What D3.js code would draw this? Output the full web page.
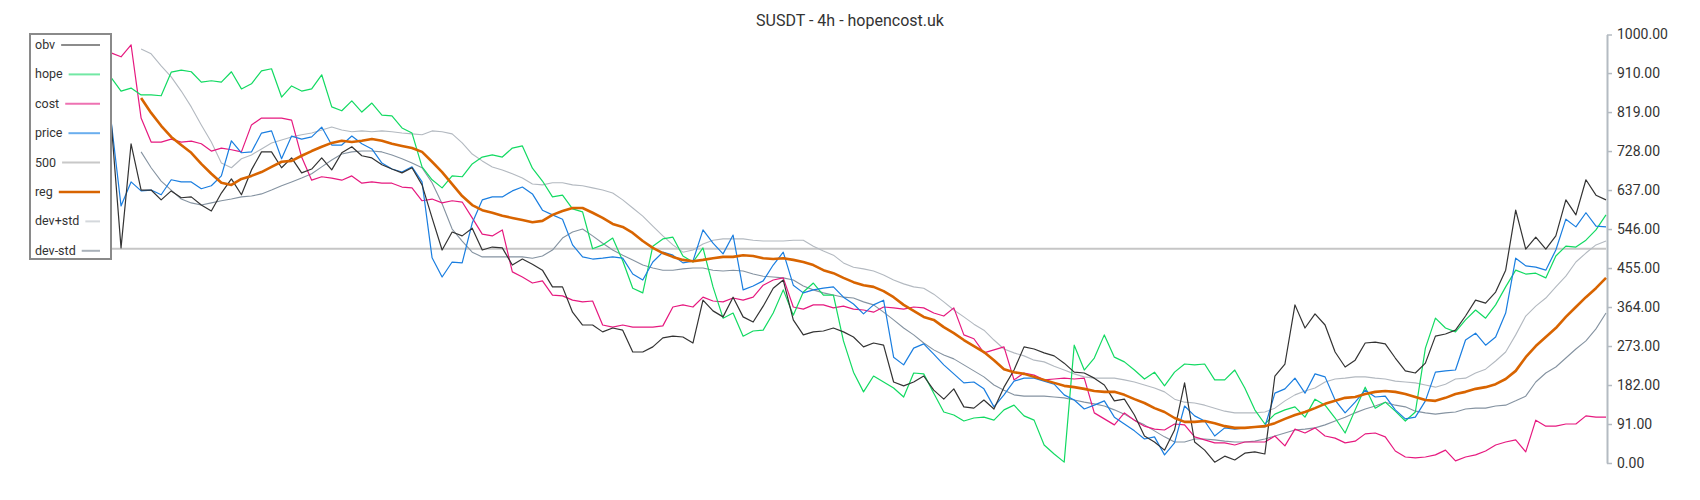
<!DOCTYPE html>
<html>
<head>
<meta charset="utf-8">
<script src="https://cdn.jsdelivr.net/npm/d3@7"></script>
<style>
  body { margin: 0; background: #fff; }
  svg { display: block; font-family: Roboto, "Noto Sans", sans-serif; }
</style>
</head>
<body>
<script>
// values, one per 4h candle
const obv = [801,502,745,637,637,614,635,619,621,602, 588,630,663,626,684,726,726,689,712,677,
  686,712,684,724,738,717,712,696,686,677, 689,649,572,497,539,530,548,497,504,502,
  462,476,464,450,411,411,352,322,322,306, 315,310,259,259,271,292,296,294,280,380,
  355,341,387,341,329,366,408,427,334,299, 306,308,315,306,294,271,280,275,189,180,
  189,203,170,149,173,131,128,147,126,177, 217,271,266,257,250,233,212,210,198,182,
  145,149,112,63,49,30,77,187,49,30, 2,16,7,23,26,21,203,231,369,315,
  348,322,259,224,240,280,282,278,245,215, 210,233,296,301,310,343,380,373,399,450,
  590,499,527,499,530,614,579,661,625,614]

const hope = [900,868,875,859,859,857,912,917,913,889, 892,889,913,873,885,915,920,854,880,868,
  873,906,831,822,845,819,840,812,810,782, 770,691,661,642,670,668,698,714,719,714,
  735,740,688,658,621,625,593,586,500,509, 525,472,408,397,506,523,527,483,469,502,
  411,338,350,296,308,310,350,404,345,399, 420,392,392,285,212,166,203,189,175,154,
  210,208,163,119,112,98,105,107,100,124, 135,110,100,42,21,2,275,217,245,299,
  247,236,217,196,212,180,212,231,229,231, 194,194,217,175,124,91,114,124,131,107,
  149,135,105,70,124,177,128,142,121,98, 119,268,338,315,306,334,357,338,369,411,
  450,441,443,432,483,506,504,520,544,579]

const cost = [957,948,976,805,749,749,756,749,751,745, 728,735,731,726,789,805,805,805,800,714,
  660,668,665,660,670,653,656,653,653,644, 642,612,616,607,612,609,572,534,530,544,
  446,434,420,425,392,390,380,376,378,322, 317,322,317,317,317,320,364,369,364,387,
  378,376,385,380,387,415,427,432,364,359, 369,369,362,366,359,357,352,364,362,359,
  364,362,350,343,362,299,290,257,264,271, 194,210,205,194,196,198,196,198,117,103,
  89,117,100,86,79,77,91,89,61,54, 47,47,42,49,49,49,63,40,79,70,
  82,63,58,47,51,68,70,61,28,14, 12,14,19,30,5,14,19,28,42,49,
  54,26,100,86,86,91,91,110,107,107]

const price = [801,600,656,635,637,626,661,656,656,640, 647,670,752,724,726,770,775,710,763,756,
  761,784,742,742,763,745,733,700,686,679, 691,656,479,434,469,467,560,614,621,621,
  635,644,628,590,579,569,509,481,476,478, 481,478,441,427,469,492,485,467,471,544,
  513,488,532,404,413,425,462,492,415,397, 404,408,411,387,371,348,369,380,247,229,
  268,278,254,229,208,187,189,173,131,159, 191,198,198,191,184,159,147,126,135,145,
  107,91,75,56,61,19,47,133,110,98, 63,82,79,82,84,84,163,173,198,163,
  208,201,147,117,142,170,154,156,124,103, 107,145,212,215,217,287,303,275,294,350,
  478,460,457,450,497,569,551,584,553,551]

const reg = [null,null,null,852,817,787,761,742,724,698, 675,654,649,663,670,679,691,703,705,717,
  728,738,747,752,749,752,756,752,745,740, 735,726,703,679,651,623,602,590,584,577,
  572,567,562,565,579,588,595,595,584,572, 558,551,537,518,502,490,481,474,471,474,
  478,481,481,485,483,478,476,478,474,469, 462,450,443,432,422,415,411,401,387,369,
  355,341,334,317,303,287,273,259,240,219, 212,208,201,194,187,180,177,173,168,166,
  166,159,149,140,128,119,105,96,96,98, 93,86,82,82,84,86,93,103,112,119,
  128,138,145,152,154,161,166,168,166,161, 154,147,145,152,161,166,173,177,184,196,
  215,247,273,294,315,341,364,387,408,432]

const devUp = [null,null,null,966,955,927,901,868,831,789, 749,700,689,710,719,733,747,754,761,766,
  770,777,784,777,773,775,773,775,773,770, 768,766,775,773,768,747,721,705,691,684,
  675,665,651,649,654,654,649,647,642,637, 630,614,595,576,553,530,509,492,497,511,
  520,523,523,523,520,518,518,518,520,520, 506,495,485,467,457,453,448,439,427,418,
  411,408,394,376,357,341,324,310,287,266, 257,250,240,236,226,217,208,201,198,198,
  198,194,189,182,175,166,149,142,140,135, 128,121,117,117,117,119,128,145,159,168,
  175,189,196,198,201,201,198,196,191,189, 187,182,177,184,196,198,210,219,238,259,
  299,343,366,385,411,436,469,490,509,518]

const devDn = [null,null,null,726,689,658,637,616,607,602, 607,612,616,621,623,628,637,647,656,665,
  675,691,707,721,726,728,728,726,719,710, 700,689,654,605,546,518,492,481,481,481,
  481,481,478,483,497,525,539,546,530,513, 497,485,474,462,455,450,450,453,455,455,
  450,448,450,448,441,436,434,432,427,413, 404,397,392,387,385,376,369,352,334,315,
  299,280,264,252,243,229,215,201,182,170, 159,156,156,156,154,152,147,142,138,133,
  124,114,100,89,75,61,49,49,56,56, 54,51,49,49,51,56,63,70,77,79,
  82,89,98,107,117,126,133,142,135,131, 121,117,114,117,119,126,128,128,133,135,
  145,156,189,210,224,245,266,285,313,350]

const level = 500
const yTicks = [0, 91, 182, 273, 364, 455, 546, 637, 728, 819, 910, 1000]
const legendNames = ['obv', 'hope', 'cost', 'price', '500', 'reg', 'dev+std', 'dev-std']

const width = 1700
const height = 500

const svg = d3.select('body')
  .append('svg')
  .attr('width', width)
  .attr('height', height)

const x = d3.scaleLinear()
  .domain([0, obv.length - 1])
  .range([111, 1606])

const y = d3.scaleLinear()
  .domain([0, 1000])
  .range([463, 34.5])

// title
svg.append('text')
  .attr('x', 850)
  .attr('y', 26)
  .attr('text-anchor', 'middle')
  .attr('font-size', 16)
  .attr('fill', '#333')
  .text('SUSDT - 4h - hopencost.uk')

// right axis
const axis = svg.append('g')
  .attr('transform', 'translate(1607,0)')
  .call(d3.axisRight(y).tickValues(yTicks).tickFormat(d => d.toFixed(2)).tickSize(5).tickSizeOuter(0).tickPadding(5))

axis.select('.domain').attr('stroke', '#b4bbc2').attr('stroke-width', 2)
axis.selectAll('.tick line').attr('stroke', '#b4bbc2').attr('stroke-width', 1.5)
axis.selectAll('.tick text')
  .attr('fill', '#333')
  .attr('font-size', 14)
  .attr('font-family', 'Roboto, sans-serif')

// the 500 level
svg.append('line')
  .attr('x1', x(0))
  .attr('x2', x(obv.length - 1))
  .attr('y1', y(level))
  .attr('y2', y(level))
  .attr('stroke', '#c6c6c6')
  .attr('stroke-width', 2)

const series = [
  { name: 'dev+std', values: devUp, color: '#b3b9c0', width: 1.1 },
  { name: 'dev-std', values: devDn, color: '#8593a1', width: 1.1 },
  { name: 'cost', values: cost, color: '#e6197f', width: 1.2 },
  { name: 'hope', values: hope, color: '#12da62', width: 1.2 },
  { name: 'price', values: price, color: '#1a7ee0', width: 1.2 },
  { name: 'obv', values: obv, color: '#333', width: 1.2 },
  { name: 'reg', values: reg, color: '#d86400', width: 2.6 }
]

const line = d3.line()
  .defined(d => d != null)
  .x((d, i) => x(i))
  .y(d => y(d))

svg.selectAll('path.series')
  .data(series)
  .enter()
  .append('path')
  .attr('class', 'series')
  .attr('d', d => line(d.values))
  .attr('fill', 'none')
  .attr('stroke', d => d.color)
  .attr('stroke-width', d => d.width)
  .attr('stroke-linejoin', 'round')

// legend
const legendColors = {
  'obv': '#8c8c8c', 'hope': '#72e8a4', 'cost': '#ee72b2', 'price': '#6aaeee',
  '500': '#c8c8c8', 'reg': '#d86400', 'dev+std': '#d4d8dc', 'dev-std': '#a9b1b9'
}

const legend = svg.append('g')

legend.append('rect')
  .attr('x', 30)
  .attr('y', 34)
  .attr('width', 81)
  .attr('height', 225)
  .attr('fill', '#fff')
  .attr('stroke', '#8a8a8a')
  .attr('stroke-width', 2)

const item = legend.selectAll('g.item')
  .data(legendNames)
  .enter()
  .append('g')
  .attr('class', 'item')
  .attr('transform', (d, i) => `translate(0,${45 + i * 29.4})`)

item.append('text')
  .attr('x', 35)
  .attr('y', 4)
  .attr('font-size', 12.5)
  .attr('fill', '#333')
  .text(d => d)

item.each(function (d) {
  const g = d3.select(this)
  const w = g.select('text').node().getComputedTextLength()
  g.append('line')
    .attr('x1', 35 + w + 6)
    .attr('x2', 100)
    .attr('y1', 0)
    .attr('y2', 0)
    .attr('stroke', legendColors[d])
    .attr('stroke-width', d === 'reg' ? 2.6 : 2)
})
</script>
</body>
</html>
